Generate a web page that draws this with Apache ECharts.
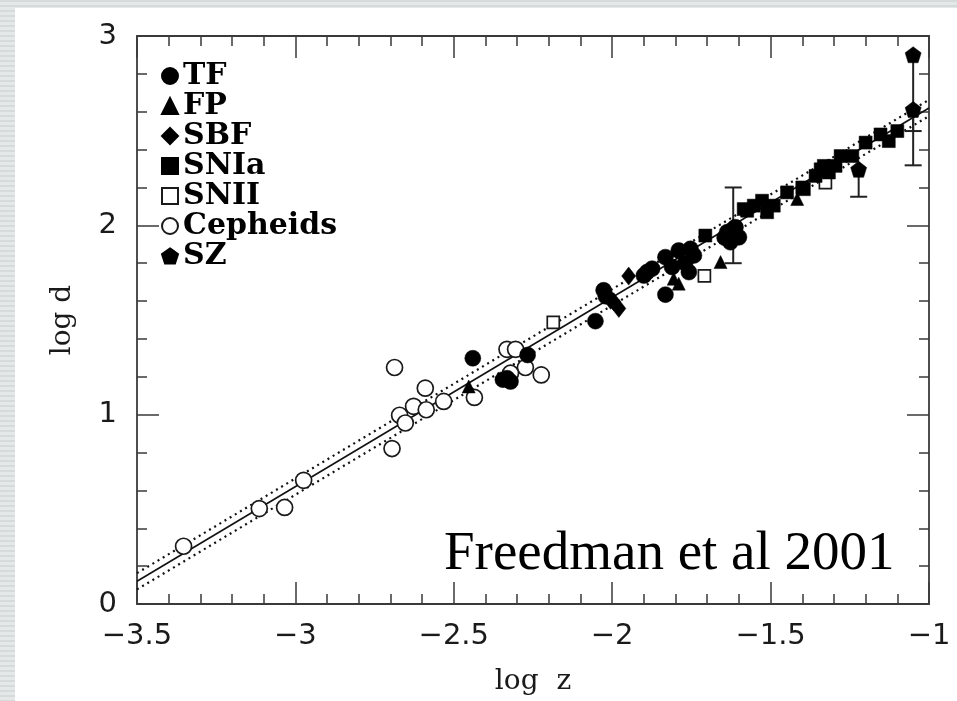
<!DOCTYPE html>
<html><head><meta charset="utf-8">
<script src="https://cdn.jsdelivr.net/npm/echarts@6/dist/echarts.min.js"></script>
<style>
html,body{margin:0;padding:0;width:957px;height:701px;overflow:hidden;
background:repeating-linear-gradient(to bottom,#d5dada 0px,#d5dada 2px,#e4e8e8 2px,#e4e8e8 5px);}
#w{position:absolute;left:15px;top:8px;right:0;bottom:0;background:#fff;}
#c{position:absolute;left:0;top:0;width:957px;height:701px;}
</style></head>
<body><div id="w"></div><div id="c"></div>
<script>
// ---- data ----
const xTicks = [-3.5, -3, -2.5, -2, -1.5, -1];
const yTicks = [0, 1, 2, 3];
const tfPoints = [[-2.440,1.298],[-2.345,1.185],[-2.332,1.193],[-2.321,1.175],[-2.267,1.315],
  [-2.053,1.494],[-2.027,1.657],[-2.020,1.625],
  [-1.890,1.753],[-1.874,1.771],[-1.900,1.735],[-1.832,1.832],[-1.832,1.634],[-1.811,1.780],
  [-1.790,1.867],[-1.753,1.876],[-1.758,1.753],[-1.742,1.841],[-1.770,1.800],
  [-1.637,1.964],[-1.611,1.990],[-1.600,1.937],[-1.627,1.911],[-1.645,1.935]];
const fpPoints = [[-2.453,1.149],[-1.806,1.718],[-1.790,1.692],[-1.658,1.806],[-1.416,2.139]];
const sbfPoints = [[-2.005,1.604],[-1.995,1.596],[-1.979,1.561],[-1.948,1.732]];
const sniaPoints = [[-1.706,1.946],[-1.585,2.086],[-1.574,2.077],[-1.553,2.104],[-1.527,2.130],
  [-1.511,2.069],[-1.490,2.104],[-1.448,2.174],[-1.400,2.200],[-1.395,2.191],[-1.358,2.261],
  [-1.342,2.296],[-1.332,2.314],[-1.316,2.279],[-1.295,2.314],[-1.279,2.366],[-1.242,2.366],
  [-1.200,2.437],[-1.153,2.480],[-1.127,2.445],[-1.100,2.498]];
const sniiPoints = [[-2.186,1.487],[-1.709,1.733],[-1.327,2.226]];
const cepheidPoints = [[-3.353,0.305],[-3.114,0.504],[-3.034,0.510],[-2.974,0.653],[-2.687,1.249],
  [-2.695,0.821],[-2.671,0.997],[-2.653,0.956],[-2.627,1.044],[-2.590,1.140],[-2.587,1.026],
  [-2.532,1.070],[-2.435,1.091],[-2.332,1.345],[-2.305,1.345],[-2.274,1.249],[-2.224,1.210],[-2.321,1.219]];
const szPoints = [[-1.050,2.901],[-1.050,2.612],[-1.222,2.296],[-1.618,1.990]];
// [x, low, high, capLow, capHigh]
const szErrors = [[-1.618,1.80,2.20,1,1],[-1.222,2.151,2.296,1,0],[-1.050,2.317,2.901,1,0],[-1.050,2.498,2.612,1,0]];
const fitLine = [[-3.5,0.12],[-1,2.62]];
const fitUpper = [[-3.5,0.163],[-1,2.663]];
const fitLower = [[-3.5,0.077],[-1,2.577]];
const seriesNames = ['TF','FP','SBF','SNIa','SNII','Cepheids','SZ'];

const pentagon = 'path://M0,-1L0.951,-0.309L0.588,0.809L-0.588,0.809L-0.951,-0.309Z';
const ink = '#000';
const axisCol = '#3a3a3a';
const minus = v => String(v).replace('-', '\u2212');

const chart = echarts.init(document.getElementById('c'), null, {renderer:'canvas'});

function axisCommon(pos, showLabel){
  return {
    type:'value', position:pos,
    axisLine:{show:true, onZero:false, lineStyle:{color:axisCol, width:1.8}},
    axisTick:{show:true, inside:true, length:22, lineStyle:{color:axisCol, width:1.5}},
    minorTick:{show:true, splitNumber:5, length:10, lineStyle:{color:axisCol, width:1.5}},
    splitLine:{show:false}, minorSplitLine:{show:false},
    axisLabel:{show:showLabel}
  };
}
const xBottom = Object.assign(axisCommon('bottom', true), {
  min:xTicks[0], max:xTicks[xTicks.length-1], interval:0.5,
  axisLabel:{show:true, formatter:minus, fontFamily:'DejaVu Sans', fontSize:29, color:'#1a1a1a', margin:18},
  name:'log  z', nameLocation:'middle', nameGap:64,
  nameTextStyle:{fontFamily:'DejaVu Serif', fontSize:28, color:'#1a1a1a'}
});
const xTop = Object.assign(axisCommon('top', false), {min:xTicks[0], max:xTicks[xTicks.length-1], interval:0.5});
const yLeft = Object.assign(axisCommon('left', true), {
  min:yTicks[0], max:yTicks[yTicks.length-1], interval:1,
  axisLabel:{show:true, fontFamily:'DejaVu Sans', fontSize:29, color:'#1a1a1a', margin:20},
  name:'log d', nameLocation:'middle', nameGap:60,
  nameTextStyle:{fontFamily:'DejaVu Serif', fontSize:28, color:'#1a1a1a'}
});
const yRight = Object.assign(axisCommon('right', false), {min:yTicks[0], max:yTicks[yTicks.length-1], interval:1});

function scatter(name, data, symbol, size, filled, z){
  return {
    name, type:'scatter', data, symbol, symbolSize:size, z:z||3,
    itemStyle: filled ? {color:ink, borderColor:ink, borderWidth:0.5, opacity:1}
                      : {color:'#fff', borderColor:'#1a1a1a', borderWidth:1.7, opacity:1},
    emphasis:{disabled:true}, silent:true
  };
}

const option = {
  animation:false,
  backgroundColor:'transparent',
  grid:{left:137, right:28, top:36, bottom:94, containLabel:false},
  xAxis:[xBottom, xTop],
  yAxis:[yLeft, yRight],
  legend:{
    orient:'vertical', left:161, top:61, padding:0, itemGap:0,
    itemWidth:16, itemHeight:16, selectedMode:false,
    textStyle:{fontFamily:'DejaVu Serif', fontWeight:'bold', fontSize:30, color:'#000', lineHeight:28.5},
    data:seriesNames
  },
  graphic:[{
    type:'text', left:444, top:527, z:10,
    style:{text:'Freedman et al 2001', font:'55px "Liberation Serif"', fill:'#000'}
  }],
  series:[
    {type:'line', data:fitLine, showSymbol:false, silent:true, z:1,
     lineStyle:{color:'#111', width:1.6}},
    {type:'line', data:fitUpper, showSymbol:false, silent:true, z:1,
     lineStyle:{color:'#111', width:2.2, type:[2,4]}},
    {type:'line', data:fitLower, showSymbol:false, silent:true, z:1,
     lineStyle:{color:'#111', width:2.2, type:[2,4]}},
    {type:'custom', silent:true, z:2, clip:true, data:szErrors,
     encode:{x:0, y:[1,2]},
     renderItem:function(params, api){
       const x = api.value(0), lo = api.value(1), hi = api.value(2);
       const capLo = api.value(3), capHi = api.value(4);
       const pLo = api.coord([x, lo]), pHi = api.coord([x, hi]);
       const hw = 8.5, st = {stroke:'#222', lineWidth:2};
       const ch = [{type:'line', shape:{x1:pLo[0], y1:pLo[1], x2:pHi[0], y2:pHi[1]}, style:st}];
       if (capLo) ch.push({type:'line', shape:{x1:pLo[0]-hw, y1:pLo[1], x2:pLo[0]+hw, y2:pLo[1]}, style:st});
       if (capHi) ch.push({type:'line', shape:{x1:pHi[0]-hw, y1:pHi[1], x2:pHi[0]+hw, y2:pHi[1]}, style:st});
       return {type:'group', children:ch};
     }},
    scatter('Cepheids', cepheidPoints, 'circle', 16, false, 3),
    scatter('SNII', sniiPoints, 'rect', 12, false, 4),
    scatter('TF', tfPoints, 'circle', 16, true, 5),
    scatter('FP', fpPoints, 'triangle', 13, true, 5),
    scatter('SBF', sbfPoints, 'diamond', [14,18], true, 5),
    scatter('SNIa', sniaPoints, 'rect', 13, true, 5),
    scatter('SZ', szPoints, pentagon, 16, true, 6)
  ]
};
chart.setOption(option);
</script>
</body></html>
